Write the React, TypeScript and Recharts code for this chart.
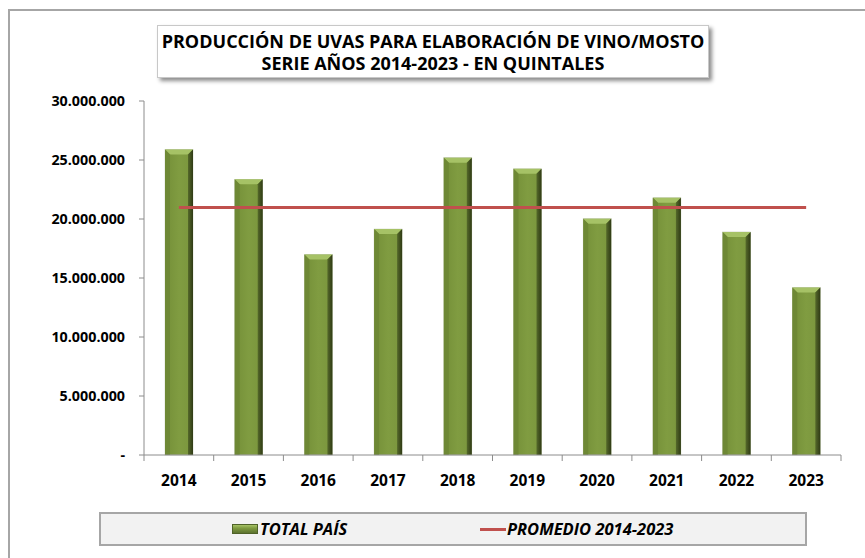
import React from "react";
import { ComposedChart, Bar, Line, XAxis, YAxis } from "recharts";

const years = ["2014", "2015", "2016", "2017", "2018", "2019", "2020", "2021", "2022", "2023"];
const totalPais = [25900000, 23360000, 17000000, 19150000, 25200000, 24250000, 20030000, 21800000, 18900000, 14200000];
const promedio = [20970000, 20970000, 20970000, 20970000, 20970000, 20970000, 20970000, 20970000, 20970000, 20970000];
const yTicks = [0, 5000000, 10000000, 15000000, 20000000, 25000000, 30000000];

const data = years.map((year, i) => ({ year, total: totalPais[i], promedio: promedio[i] }));

const W = 865;
const H = 558;
const LEFT = 144;
const RIGHT = 24;
const TOP = 101;
const BOTTOM = 103;
const BAND = (W - LEFT - RIGHT) / years.length;

const FONT = "'Open Sans', 'Noto Sans', sans-serif";
const AXIS = "#8c8c8c";

const fmt = (v: number) => (v === 0 ? "-" : String(v).replace(/\B(?=(\d{3})+(?!\d))/g, "."));

function XTick(props: any) {
  const { x, y, payload, index } = props;
  const left = x - BAND / 2;
  return (
    <g>
      <line x1={left} x2={left} y1={y - 6} y2={y} stroke={AXIS} />
      {index === years.length - 1 && <line x1={x + BAND / 2} x2={x + BAND / 2} y1={y - 6} y2={y} stroke={AXIS} />}
      <text x={x} y={y + 25} textAnchor="middle" fontSize={15.5} fontWeight="bold" fill="#000">
        {payload.value}
      </text>
    </g>
  );
}

function BevelBar(props: any) {
  const { x, y, width, height } = props;
  if (!height || height <= 0) return null;
  const b = 5;
  return (
    <g>
      <rect x={x} y={y} width={width} height={height} fill="url(#barBody)" stroke="#c9cfbf" strokeWidth={0.6} />
      <polygon points={`${x},${y} ${x + width},${y} ${x + width - b},${y + b} ${x + b},${y + b}`} fill="#a6c266" />
      <polygon points={`${x + width},${y} ${x + width},${y + height} ${x + width - b},${y + height} ${x + width - b},${y + b}`} fill="url(#barSide)" />
      <polygon points={`${x},${y} ${x + b},${y + b} ${x + b},${y + height} ${x},${y + height}`} fill="#6e8835" />
    </g>
  );
}

function App() {
  return (
    <div style={{ position: "absolute", left: 0, top: 0, width: W, height: H, background: "#fff", fontFamily: FONT, overflow: "hidden" }}>
      <div style={{ position: "absolute", left: 8, top: 9, width: W, height: H, borderLeft: "2px solid #a6a6a6", borderTop: "2px solid #a6a6a6" }} />
      <ComposedChart
        width={W}
        height={H}
        data={data}
        margin={{ top: TOP, right: RIGHT, left: 0, bottom: 0 }}
        barCategoryGap={0}
        style={{ position: "absolute", left: 0, top: 0, fontFamily: FONT }}
      >
        <defs>
          <linearGradient id="barBody" x1="0" y1="0" x2="1" y2="0">
            <stop offset="0%" stopColor="#748f38" />
            <stop offset="50%" stopColor="#809c41" />
            <stop offset="100%" stopColor="#7a953d" />
          </linearGradient>
          <linearGradient id="barSide" x1="0" y1="0" x2="1" y2="0">
            <stop offset="0%" stopColor="#55692a" />
            <stop offset="100%" stopColor="#2f3a15" />
          </linearGradient>
        </defs>
        <XAxis
          xAxisId="x"
          dataKey="year"
          height={BOTTOM}
          axisLine={{ stroke: AXIS }}
          tickLine={false}
          tickSize={6}
          tickMargin={0}
          tick={<XTick />}
          interval={0}
        />
        <XAxis xAxisId="top" dataKey="year" orientation="top" height={0} tick={false} tickLine={false} axisLine={{ stroke: "#a6a6a6" }} />
        <YAxis
          yAxisId="y"
          width={LEFT}
          domain={[0, 30000000]}
          ticks={yTicks}
          tickFormatter={fmt}
          axisLine={{ stroke: AXIS }}
          tickLine={{ stroke: AXIS }}
          tickSize={5}
          tickMargin={14}
          tick={{ fontSize: 14.3, fontWeight: "bold", fill: "#000" }}
          interval={0}
        />
        <YAxis yAxisId="right" orientation="right" width={0} tick={false} tickLine={false} axisLine={{ stroke: "#a6a6a6" }} />
        <Bar xAxisId="x" yAxisId="y" dataKey="total" name="TOTAL PAÍS" barSize={28} shape={<BevelBar />} isAnimationActive={false} />
        <Line xAxisId="x" yAxisId="y" dataKey="promedio" name="PROMEDIO 2014-2023" stroke="#c0504d" strokeWidth={3} dot={false} activeDot={false} isAnimationActive={false} />
      </ComposedChart>

      <div
        style={{
          position: "absolute",
          left: 157,
          top: 25,
          width: 552,
          height: 53,
          background: "#fff",
          border: "1px solid #c8c8c8",
          boxShadow: "3px 3px 4px rgba(0,0,0,0.45)",
          textAlign: "center",
          fontWeight: "bold",
          fontSize: 18,
          lineHeight: "22px",
          paddingTop: 4,
          boxSizing: "border-box",
          color: "#000",
          whiteSpace: "nowrap",
        }}
      >
        <div>PRODUCCIÓN DE UVAS PARA ELABORACIÓN DE VINO/MOSTO</div>
        <div>SERIE AÑOS 2014-2023 - EN QUINTALES</div>
      </div>

      <div
        style={{
          position: "absolute",
          left: 99,
          top: 512,
          width: 708,
          height: 34,
          background: "#f2f2f2",
          border: "2px solid #a6a6a6",
          boxSizing: "border-box",
          fontWeight: "bold",
          fontStyle: "italic",
          fontSize: 16.5,
          whiteSpace: "nowrap",
        }}
      >
        <div style={{ position: "absolute", left: 131, top: 10, width: 26, height: 10, background: "linear-gradient(#a6c266, #7f9b40 40%, #5d7330)", border: "1px solid #4f6228", boxSizing: "border-box" }} />
        <div style={{ position: "absolute", left: 159, top: 4, lineHeight: "22px" }}>TOTAL PAÍS</div>
        <div style={{ position: "absolute", left: 379, top: 14, width: 26, height: 3, background: "#c0504d" }} />
        <div style={{ position: "absolute", left: 406, top: 4, lineHeight: "22px" }}>PROMEDIO 2014-2023</div>
      </div>
    </div>
  );
}

export default App;
